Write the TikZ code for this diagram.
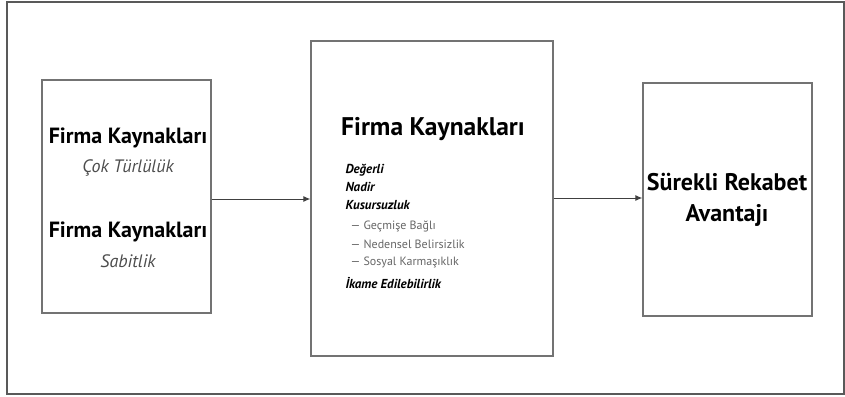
\documentclass[tikz,border=0pt]{standalone}
\usepackage{fontspec}
\setmainfont{PT Sans}
\usetikzlibrary{arrows.meta}
\tikzset{
  box/.style={draw=black!55, line width=1.3pt, inner sep=0pt},
  conn/.style={draw=black!75, line width=1pt, -{Latex[length=7pt,width=6pt]}},
  bigt/.style={font=\fontsize{22}{24}\selectfont\bfseries},
  subt/.style={font=\fontsize{18}{20}\selectfont\itshape, text=black!70},
  item/.style={font=\fontsize{13}{15}\selectfont\bfseries\itshape, anchor=west},
  subitem/.style={font=\fontsize{12}{14}\selectfont, text=black!60, anchor=west},
}
\begin{document}
\begin{tikzpicture}[x=1pt,y=-1pt]
\useasboundingbox (0,0) rectangle (845,396);
\draw[black!65, line width=1.3pt] (7,2) rectangle (844,394);
% boxes
\node[box, minimum width=169pt, minimum height=233pt] (left) at (126.5,196.5) {};
\node[box, minimum width=242pt, minimum height=315pt] (mid) at (432,198.5) {};
\node[box, minimum width=169pt, minimum height=233pt] (right) at (727.5,199.5) {};
% left texts
\node[bigt] (l1) at (128,138) {Firma Kaynakları};
\node[subt] (l2) at (128,168) {Çok Türlülük};
\node[bigt] (l3) at (128,232) {Firma Kaynakları};
\node[subt] (l4) at (128,261) {Sabitlik};
% middle texts
\node[font=\fontsize{25.5}{28}\selectfont\bfseries] (m1) at (433,129) {Firma Kaynakları};
\node[item] (m2) at (342,170) {Değerli};
\node[item] (m3) at (342,187) {Nadir};
\node[item] (m4) at (342,205) {Kusursuzluk};
\node[subitem] (m5) at (347,226) {— Geçmişe Bağlı};
\node[subitem] (m6) at (347,244) {— Nedensel Belirsizlik};
\node[subitem] (m7) at (347,262) {— Sosyal Karmaşıklık};
\node[item] (m8) at (342,283) {İkame Edilebilirlik};
% right texts
\node[font=\fontsize{24}{31}\selectfont\bfseries, align=center] (r1) at (727,200) {Sürekli Rekabet\\Avantajı};
% connectors
\draw[conn] (left.east |- 0,199) -- (mid.west |- 0,199);
\draw[conn] (mid.east |- 0,198) -- (right.west |- 0,198);
\end{tikzpicture}
\end{document}
